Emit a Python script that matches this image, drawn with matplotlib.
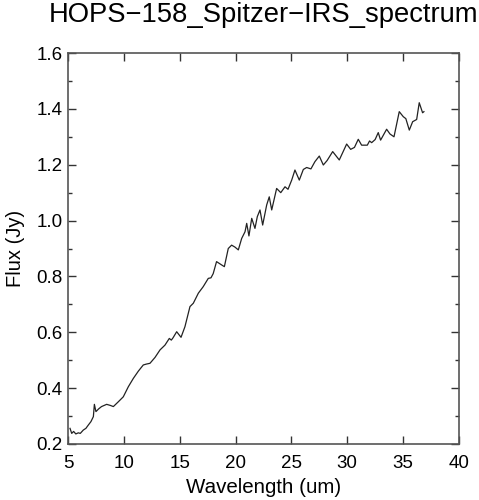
import matplotlib
matplotlib.use("Agg")
import matplotlib.pyplot as plt
from matplotlib.ticker import MultipleLocator

# spectrum (wavelength in um, flux in Jy)
wavelength = [5.18, 5.33, 5.5, 5.7, 5.92, 6.1, 6.37, 6.6, 6.82, 7.05, 7.27, 7.36, 7.5,
              7.75, 8.0, 8.46, 8.8, 9.06, 9.5, 9.95, 10.4, 10.85, 11.3, 11.74, 12.0,
              12.34, 12.79, 13.24, 13.68, 14.07, 14.25, 14.4, 14.73, 15.12, 15.47,
              15.92, 16.22, 16.67, 17.1, 17.56, 17.8, 18.0, 18.3, 18.76, 19.0, 19.35,
              19.65, 19.95, 20.25, 20.55, 20.85, 21.0, 21.2, 21.45, 21.74, 21.95,
              22.19, 22.43, 22.79, 23.02, 23.24, 23.68, 24.05, 24.43, 24.7, 25.03,
              25.32, 25.71, 26.07, 26.37, 26.75, 27.11, 27.5, 27.86, 28.2, 28.7,
              29.29, 29.95, 30.31, 30.65, 30.99, 31.29, 31.8, 32.0, 32.19, 32.5,
              32.78, 32.99, 33.53, 33.83, 34.19, 34.66, 35.02, 35.25, 35.56, 35.86,
              36.22, 36.45, 36.75, 36.87]
flux = [0.256, 0.238, 0.245, 0.236, 0.24, 0.238, 0.25, 0.256, 0.268, 0.28, 0.298, 0.342, 0.316,
        0.326, 0.334, 0.342, 0.338, 0.334, 0.351, 0.369, 0.405, 0.435, 0.461, 0.483, 0.486,
        0.489, 0.51, 0.537, 0.554, 0.578, 0.572, 0.58, 0.602, 0.582, 0.62,
        0.692, 0.704, 0.74, 0.763, 0.793, 0.795, 0.81, 0.853, 0.841, 0.835, 0.9,
        0.912, 0.905, 0.895, 0.936, 0.96, 0.99, 0.945, 1.008, 0.972, 1.014,
        1.038, 0.984, 1.056, 1.085, 1.038, 1.115, 1.1, 1.121, 1.112, 1.145,
        1.181, 1.145, 1.183, 1.19, 1.185, 1.211, 1.231, 1.199, 1.215, 1.247,
        1.217, 1.274, 1.255, 1.262, 1.291, 1.27, 1.27, 1.285, 1.279, 1.29,
        1.315, 1.288, 1.327, 1.31, 1.3, 1.39, 1.372, 1.365, 1.324, 1.354,
        1.362, 1.422, 1.386, 1.39]

plt.rcParams["font.family"] = ["Liberation Sans", "DejaVu Sans"]

fig = plt.figure(figsize=(4.79, 5.0), dpi=100)
ax = fig.add_axes([0.142, 0.112, 0.816, 0.782])
ax.plot(wavelength, flux, color="#222222", linewidth=0.9)

ax.set_xlim(5, 40)
ax.set_ylim(0.2, 1.6)
ax.xaxis.set_major_locator(MultipleLocator(5))
ax.yaxis.set_major_locator(MultipleLocator(0.2))
ax.yaxis.set_minor_locator(MultipleLocator(0.1))
ax.yaxis.set_major_formatter(plt.FormatStrFormatter("%.1f"))
ax.tick_params(which="both", direction="in", top=True, right=True, labelsize=13.5, color="#333333")
ax.tick_params(which="major", length=5.8, width=1)
ax.tick_params(which="minor", length=3, width=1)
ax.tick_params(axis="x", pad=8)
ax.tick_params(axis="y", pad=4)
for s in ax.spines.values():
    s.set_color("#555555")
    s.set_linewidth(1.2)

ax.set_xlabel("Wavelength (um)", fontsize=14.8, labelpad=4)
ax.set_ylabel("Flux (Jy)", fontsize=14.5, labelpad=8)
ax.set_title("HOPS\u2212158_Spitzer\u2212IRS_spectrum", fontsize=19.7, pad=22)

fig.savefig("out.png", dpi=100)
